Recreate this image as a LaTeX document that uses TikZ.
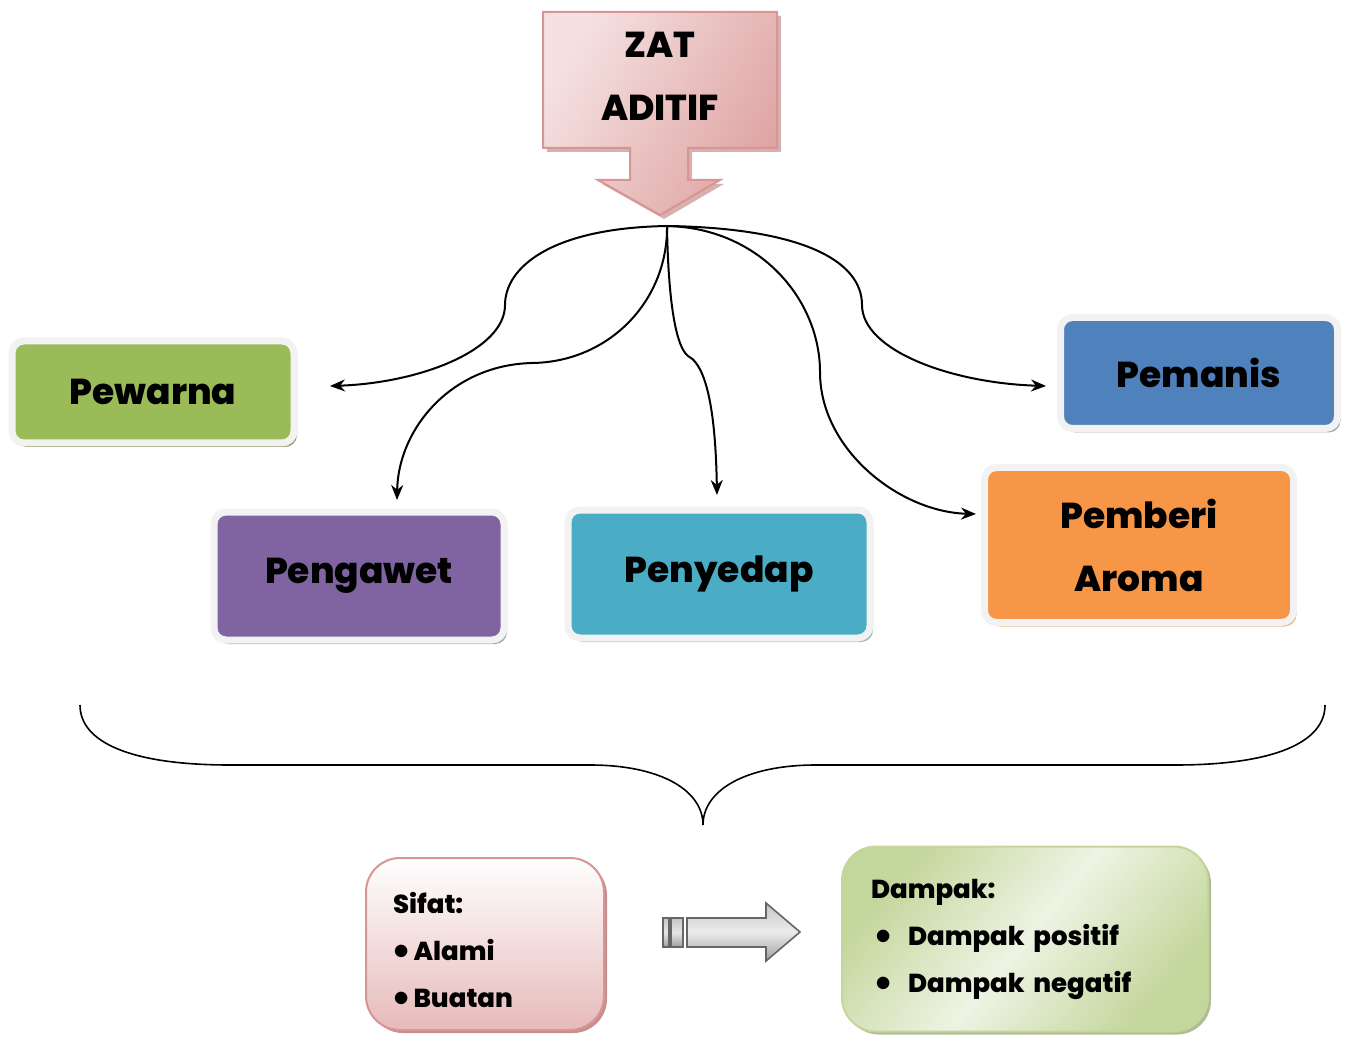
\documentclass[tikz,border=0pt]{standalone}
\usepackage{fontspec}
\setmainfont{Poppins}[BoldFont={Poppins ExtraBold}]
\usetikzlibrary{shadows,arrows.meta}
\definecolor{pinkdark}{HTML}{D99594}
\definecolor{pinklight}{HTML}{F5E1E1}
\definecolor{pinkshadow}{HTML}{C49090}
\definecolor{cgreen}{HTML}{9BBB59}
\definecolor{cblue}{HTML}{4F81BD}
\definecolor{cpurple}{HTML}{8064A2}
\definecolor{cteal}{HTML}{4BACC6}
\definecolor{corange}{HTML}{F79646}
\definecolor{frame}{HTML}{F2F2F2}
\definecolor{lgreen}{HTML}{C3D69B}
\definecolor{lgreenpale}{HTML}{EEF3E3}
\newcommand{\bigbul}{\raisebox{0.5pt}{\scalebox{1.35}{$\bullet$}}}
\tikzset{
  catbox/.style={draw=frame, line width=3.5pt, rounded corners=6pt, align=center,
    font=\bfseries\fontsize{18}{31.5}\selectfont, inner sep=0pt},
  conn/.style={line width=1pt, -{Stealth[length=7.5pt,width=6pt]}},
  infobox/.style={rounded corners=17pt, line width=1pt, align=left,
    font=\bfseries\fontsize{13}{23.5}\selectfont},
}
\begin{document}
\begin{tikzpicture}[x=0.5pt,y=-0.5pt]
\useasboundingbox (0,0) rectangle (1348,1042);
% top arrow callout
\fill[pinkshadow!70] (547,16) -- (781,16) -- (781,152) -- (692,152) -- (692,184) -- (724,184) -- (664,219) -- (602,184) -- (634,184) -- (634,152) -- (547,152) -- cycle;
\shade[draw=pinkdark, line width=1pt, shading=axis, left color=pinklight, right color=pinkdark!85, shading angle=60]
  (543,12) -- (777,12) -- (777,148) -- (688,148) -- (688,180) -- (720,180) -- (660,215) -- (598,180) -- (630,180) -- (630,148) -- (543,148) -- cycle;
\node[font=\bfseries\fontsize{18}{31.5}\selectfont, align=center] (zat) at (660,76) {ZAT\\ADITIF};
\coordinate (hub) at (667,226);
% category boxes
\node[catbox, fill=cgreen, minimum width=141pt, minimum height=51pt,
  drop shadow={shadow xshift=1.5pt, shadow yshift=-2pt, fill=cgreen!50!gray, opacity=1}] (pew) at (153,392) {Pewarna};
\node[catbox, fill=cblue, minimum width=138.5pt, minimum height=55.5pt,
  drop shadow={shadow xshift=1.5pt, shadow yshift=-2pt, fill=cblue!40!gray!70, opacity=1}] (man) at (1199,373) {Pemanis};
\node[catbox, fill=cpurple, minimum width=145pt, minimum height=64pt,
  drop shadow={shadow xshift=1.5pt, shadow yshift=-2pt, fill=cpurple!40!gray!70, opacity=1}] (awt) at (359,576) {Pengawet};
\node[catbox, fill=cteal, minimum width=151pt, minimum height=64pt,
  drop shadow={shadow xshift=1.5pt, shadow yshift=-2pt, fill=cteal!40!gray!70, opacity=1}] (ydp) at (719,574) {Penyedap};
\node[catbox, fill=corange, minimum width=154.5pt, minimum height=77.5pt,
  drop shadow={shadow xshift=1.5pt, shadow yshift=-2pt, fill=corange!50!brown!60, opacity=1}] (aro) at (1139,545) {Pemberi\\Aroma};
% arrow tips
\coordinate (tpew) at (330,386);
\coordinate (tawt) at (397,500);
\coordinate (tydp) at (717,495);
\coordinate (taro) at (976,514);
\coordinate (tman) at (1046,386);
% connectors
\draw[conn] (hub) .. controls (550,228) and (505,268) .. (505,305) .. controls (505,350) and (420,383) .. (tpew);
\draw[conn] (hub) .. controls (668,300) and (610,362) .. (532,363) .. controls (450,365) and (398,430) .. (tawt);
\draw[conn] (hub) .. controls (668,290) and (674,345) .. (688,356) .. controls (712,368) and (716,440) .. (tydp);
\draw[conn] (hub) .. controls (760,228) and (820,300) .. (820,372) .. controls (820,450) and (900,512) .. (taro);
\draw[conn] (hub) .. controls (800,228) and (862,260) .. (862,305) .. controls (862,350) and (950,383) .. (tman);
% brace
\coordinate (bl) at (80,705);
\coordinate (br) at (1325,705);
\coordinate (btip) at (703,825);
\draw[line width=0.8pt] (bl) .. controls (80,742) and (130,765) .. (230,765) -- (590,765)
  .. controls (660,765) and (703,790) .. (btip)
  .. controls (703,790) and (746,765) .. (816,765) -- (1175,765)
  .. controls (1275,765) and (1325,742) .. (br);
% Sifat box
\node[infobox, draw=pinkdark, top color=white, bottom color=pinkdark!65, text width=92pt, inner xsep=13.5pt,
  minimum height=86pt, drop shadow={shadow xshift=1.5pt, shadow yshift=-1.5pt, fill=pinkshadow, opacity=1}] (sifat) at (485,944)
  {\rule{0pt}{17pt}Sifat:\\\bigbul\,Alami\\\bigbul\,Buatan};
% gray arrow
\shade[draw=gray!80!black, line width=0.8pt, top color=gray!45, bottom color=gray!75, middle color=gray!20]
  (663,918) rectangle (669,947);
\shade[draw=gray!80!black, line width=0.8pt, top color=gray!45, bottom color=gray!75, middle color=gray!20]
  (671,918) rectangle (683,947);
\shade[draw=gray!80!black, line width=0.8pt, top color=gray!45, bottom color=gray!75, middle color=gray!15]
  (687,918) -- (766,918) -- (766,903) -- (800,932) -- (766,961) -- (766,947) -- (687,947) -- cycle;
% Dampak box
\node[infobox, draw=lgreen, left color=lgreen, right color=lgreen, middle color=lgreenpale, shading angle=50,
  text width=154pt, inner xsep=14.5pt, minimum height=92.5pt,
  drop shadow={shadow xshift=1.5pt, shadow yshift=-1.5pt, fill=lgreen!70!gray, opacity=1}] (dampak) at (1025,939)
  {Dampak:\\\makebox[18.5pt][l]{\hspace{2pt}\bigbul}Dampak positif\\\makebox[18.5pt][l]{\hspace{2pt}\bigbul}Dampak negatif};
\end{tikzpicture}
\end{document}
